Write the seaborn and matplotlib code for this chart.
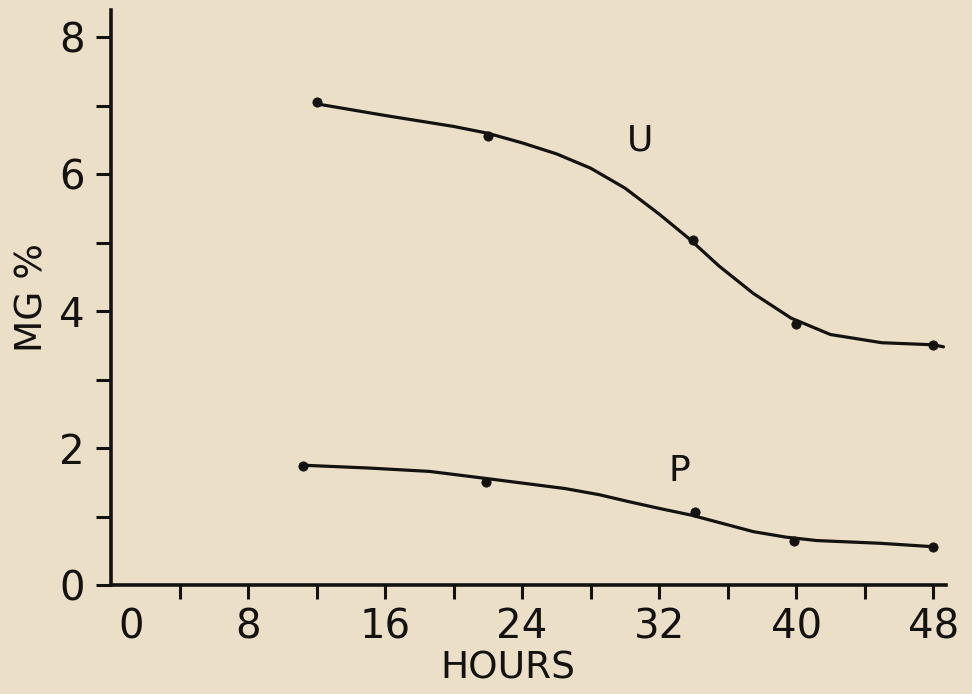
import matplotlib
matplotlib.use("Agg")
import matplotlib.pyplot as plt
import matplotlib.transforms as mtransforms
import seaborn as sns
import pandas as pd

# measured points
u_hours = [12, 22, 34, 40, 48]
u_values = [7.05, 6.56, 5.04, 3.82, 3.50]
p_hours = [11.2, 21.9, 34.1, 39.9, 48.0]
p_values = [1.74, 1.51, 1.07, 0.65, 0.56]

# hand-drawn smooth curves
u_curve_hours = [12, 16, 20, 22, 24, 26, 28, 30, 32, 33.75, 35.5, 37.5, 39.7, 42, 45, 48, 48.6]
u_curve_values = [7.03, 6.86, 6.70, 6.60, 6.46, 6.30, 6.09, 5.80, 5.42, 5.06, 4.66, 4.26, 3.90, 3.66, 3.54, 3.51, 3.48]
p_curve_hours = [11.25, 15, 18.6, 21.8, 24, 26.5, 28.5, 30.2, 32, 33.9, 35.7, 37.5, 39.4, 41.2, 44.9, 48.0]
p_curve_values = [1.75, 1.71, 1.66, 1.56, 1.49, 1.41, 1.32, 1.22, 1.12, 1.02, 0.90, 0.78, 0.70, 0.65, 0.61, 0.56]

x_major = [0, 8, 16, 24, 32, 40, 48]
x_minor = [4, 12, 20, 28, 36, 44]
y_major = [0, 2, 4, 6, 8]
y_minor = [1, 3, 5, 7]

bg = "#ecdfc8"
ink = "#141210"

sns.set_style("ticks")
plt.rcParams["font.family"] = ["DejaVu Sans"]

fig = plt.figure(figsize=(9.72, 6.94), dpi=100, facecolor=bg)
ax = fig.add_axes([0.1142, 0.157, 0.8591, 0.8285])
ax.set_facecolor(bg)

curves = pd.concat([
    pd.DataFrame({"hours": u_curve_hours, "value": u_curve_values, "series": "U"}),
    pd.DataFrame({"hours": p_curve_hours, "value": p_curve_values, "series": "P"}),
])
points = pd.concat([
    pd.DataFrame({"hours": u_hours, "value": u_values, "series": "U"}),
    pd.DataFrame({"hours": p_hours, "value": p_values, "series": "P"}),
])

sns.lineplot(data=curves, x="hours", y="value", units="series", estimator=None,
             color=ink, linewidth=2.3, ax=ax, sort=True)
sns.scatterplot(data=points, x="hours", y="value", color=ink, s=45,
                edgecolor=ink, ax=ax, zorder=3)

ax.set_xlim(0, 48.75)
ax.set_ylim(0, 8.4)

for s in ["top", "right"]:
    ax.spines[s].set_visible(False)
for s in ["left", "bottom"]:
    ax.spines[s].set_linewidth(2.6)
    ax.spines[s].set_color(ink)

ax.set_xticks(x_major)
ax.set_xticklabels([str(v) for v in x_major])
ax.set_xticks(x_minor, minor=True)
ax.set_yticks(y_major)
ax.set_yticklabels([str(v) for v in y_major])
ax.set_yticks(y_minor, minor=True)

ax.tick_params(axis="x", which="both", direction="out", length=10, width=2.2,
               color=ink, labelsize=29, labelcolor=ink, pad=6)
ax.tick_params(axis="y", which="both", direction="out", length=11, width=2.2,
               color=ink, labelsize=29, labelcolor=ink, pad=8)
# hide tick mark at the origin and shift the "0" label to the right
ax.xaxis.get_major_ticks()[0].tick1line.set_visible(False)
lab0 = ax.get_xticklabels()[0]
lab0.set_transform(lab0.get_transform() + mtransforms.ScaledTranslation(0.2, 0, fig.dpi_scale_trans))

ax.set_xlabel("HOURS", fontsize=27, color=ink, labelpad=2)
ax.xaxis.label.set_x(0.475)
ax.set_ylabel("MG %", fontsize=27, color=ink, labelpad=6)

ax.text(30.9, 6.49, "U", fontsize=26, color=ink, ha="center", va="center")
ax.text(33.2, 1.66, "P", fontsize=26, color=ink, ha="center", va="center")

fig.savefig("out.png", dpi=100, facecolor=bg)
